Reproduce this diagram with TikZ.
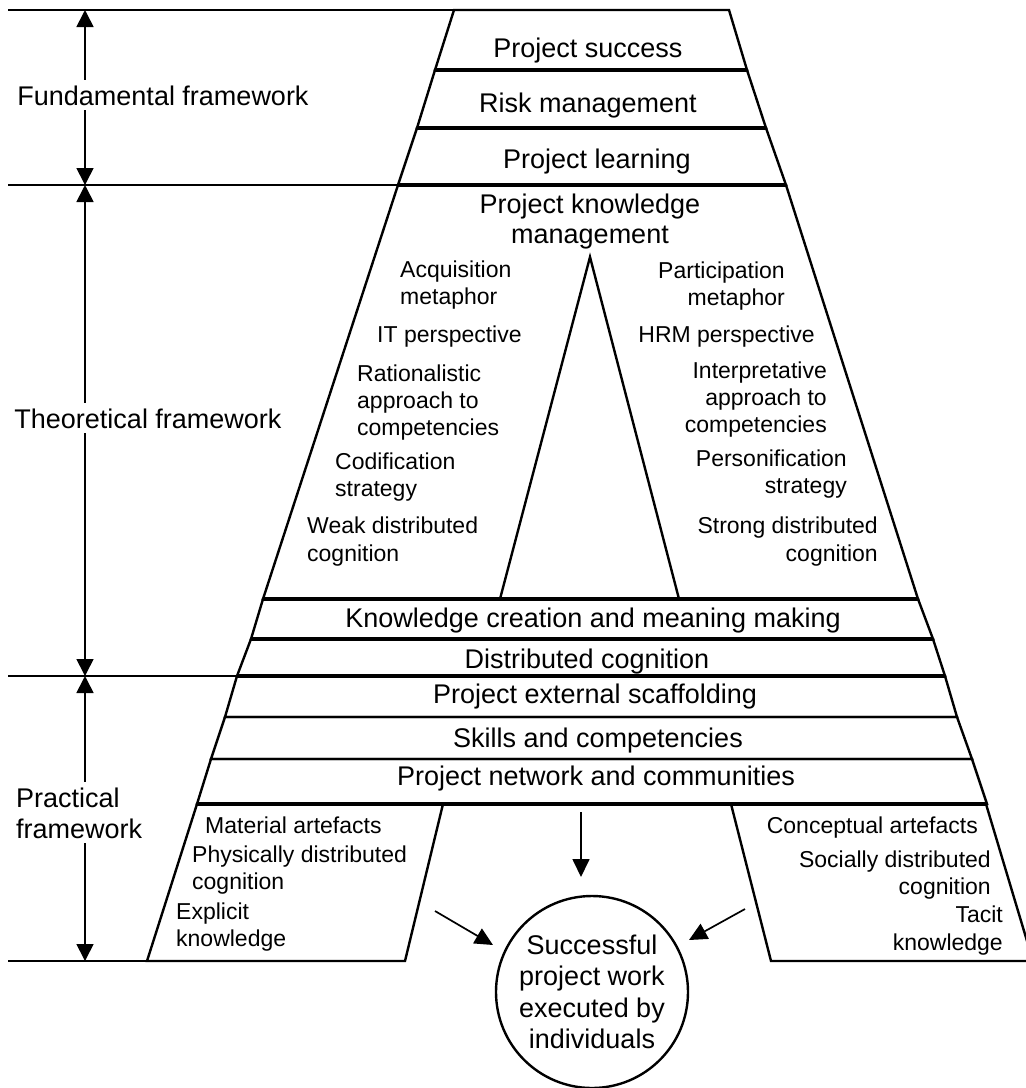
\documentclass[tikz,border=0pt]{standalone}
\usepackage{fontspec}
\setmainfont{Liberation Sans}
\usetikzlibrary{arrows.meta}
\begin{document}
\begin{tikzpicture}[x=1pt,y=-1pt,
  band/.style={draw, line width=2.4pt, line join=miter},
  sepline/.style={line width=3.6pt},
  guide/.style={line width=1.5pt},
  dimarrow/.style={line width=1.7pt,
    {Triangle[width=17pt,length=17pt]}-{Triangle[width=17pt,length=17pt]}},
  flow/.style={line width=1.7pt, -{Triangle[width=17pt,length=18pt]}},
  big/.style={font=\fontsize{27}{31.5}\selectfont, inner sep=0pt, anchor=base, align=center},
  small/.style={font=\fontsize{23}{27}\selectfont, inner sep=0pt},
  lsmall/.style={small, anchor=base west, align=left},
  rsmall/.style={small, anchor=base east, align=right},
  frame/.style={font=\fontsize{27}{31}\selectfont, fill=white, inner xsep=0pt, inner ysep=5pt}
]
% canvas
\fill[white] (0,0) rectangle (1026,1088);
\useasboundingbox (0,0) rectangle (1026,1088);
\clip (0,0) rectangle (1026,1088);

% corners of the stacked bands
\coordinate (p0l) at (454,10);  \coordinate (p0r) at (729,10);
\coordinate (p1l) at (435,70);  \coordinate (p1r) at (747,70);
\coordinate (p2l) at (417,128); \coordinate (p2r) at (766,128);
\coordinate (p3l) at (398,185); \coordinate (p3r) at (786,185);
\coordinate (p4l) at (263,599); \coordinate (p4r) at (918,599);
\coordinate (p5l) at (251,639); \coordinate (p5r) at (933,639);
\coordinate (p6l) at (237,676); \coordinate (p6r) at (945,676);
\coordinate (p7l) at (225,717); \coordinate (p7r) at (957,717);
\coordinate (p8l) at (211,759); \coordinate (p8r) at (972,759);
\coordinate (p9l) at (197,804); \coordinate (p9r) at (987,804);

% inner triangle of the knowledge management block
\coordinate (tapex) at (590,257);
\coordinate (tl) at (500,599);
\coordinate (tr) at (679,599);

% the two legs
\coordinate (lla) at (443,804); \coordinate (llb) at (405,961); \coordinate (llc) at (147,961);
\coordinate (rla) at (731,804); \coordinate (rlb) at (986,804);
\coordinate (rlc) at (1033,961); \coordinate (rld) at (771,961);

% left scale
\coordinate (g0) at (8,10);  \coordinate (g1) at (8,185);
\coordinate (g2) at (8,676); \coordinate (g3) at (8,961);
\coordinate (f0) at (85,10);  \coordinate (f1) at (85,185);
\coordinate (f2) at (85,676); \coordinate (f3) at (85,961);

% arrow ends
\coordinate (dnA) at (581,812); \coordinate (dnB) at (581,877);
\coordinate (lfA) at (435,911); \coordinate (lfB) at (493,945);
\coordinate (rtA) at (745,909); \coordinate (rtB) at (689,940);

% guide lines
\draw[guide] (g0) -- (p0l);
\draw[guide] (g1) -- (p3l);
\draw[guide] (g2) -- (p6l);
\draw[guide] (g3) -- (llc);

% bands
\draw[band] (p0l) -- (p0r) -- (p1r) -- (p1l) -- cycle;
\draw[band] (p1l) -- (p1r) -- (p2r) -- (p2l) -- cycle;
\draw[band] (p2l) -- (p2r) -- (p3r) -- (p3l) -- cycle;
\draw[band] (p3l) -- (p3r) -- (p4r) -- (p4l) -- cycle;
\draw[band] (p4l) -- (p4r) -- (p5r) -- (p5l) -- cycle;
\draw[band] (p5l) -- (p5r) -- (p6r) -- (p6l) -- cycle;
\draw[band] (p6l) -- (p6r) -- (p7r) -- (p7l) -- cycle;
\draw[band] (p7l) -- (p7r) -- (p8r) -- (p8l) -- cycle;
\draw[band] (p8l) -- (p8r) -- (p9r) -- (p9l) -- cycle;
\draw[band] (tl) -- (tapex) -- (tr);

% heavier separators
\foreach \k in {1,2,3,4,5,6,9}
  \draw[sepline] (p\k l) -- (p\k r);

% legs
\draw[band] (p9l) -- (lla) -- (llb) -- (llc) -- cycle;
\draw[band] (rla) -- (rlb) -- (rlc) -- (rld) -- cycle;

% scale arrows
\draw[dimarrow] (f0) -- (f1);
\draw[dimarrow] (f1) -- (f2);
\draw[dimarrow] (f2) -- (f3);

% multi-line nodes are placed by the baseline of their last line
\node[frame, anchor=base] (fund) at (163,105) {Fundamental framework};
\node[frame, anchor=base] (theo) at (148,428) {Theoretical framework};
\node[frame, anchor=base west, align=left] (prac) at (16,838) {Practical\\framework};

% band labels
\node[big] (success) at (588,57) {Project success};
\node[big] (risk) at (588,112) {Risk management};
\node[big] (learn) at (597,168) {Project learning};
\node[big, font=\fontsize{27}{30}\selectfont] (pkm) at (590,243) {Project knowledge\\management};
\node[big] (kcm) at (593,627) {Knowledge creation and meaning making};
\node[big] (dcog) at (587,668) {Distributed cognition};
\node[big] (scaf) at (595,703) {Project external scaffolding};
\node[big] (skill) at (598,747) {Skills and competencies};
\node[big] (netw) at (596,785) {Project network and communities};

% left column
\node[lsmall] (acq) at (400,304) {Acquisition\\metaphor};
\node[lsmall] (itp) at (377,342) {IT perspective};
\node[lsmall] (rat) at (357,435) {Rationalistic\\approach to\\competencies};
\node[lsmall] (cod) at (335,496) {Codification\\strategy};
\node[lsmall, font=\fontsize{23}{28}\selectfont] (weak) at (307,561) {Weak distributed\\cognition};

% right column
\node[rsmall] (par) at (785,305) {Participation\\metaphor};
\node[rsmall] (hrm) at (815,342) {HRM perspective};
\node[rsmall] (intp) at (827,432) {Interpretative\\approach to\\competencies};
\node[rsmall] (pers) at (847,493) {Personification\\strategy};
\node[rsmall, font=\fontsize{23}{28}\selectfont] (strong) at (878,561) {Strong distributed\\cognition};

% leg labels
\node[lsmall] (mat) at (205,833) {Material artefacts};
\node[lsmall] (phys) at (192,889) {Physically distributed\\cognition};
\node[lsmall] (expl) at (176,946) {Explicit\\knowledge};
\node[rsmall] (conc) at (978,833) {Conceptual artefacts};
\node[rsmall] (soc) at (991,894) {Socially distributed\\cognition};
\node[rsmall, font=\fontsize{23}{28}\selectfont] (tacit) at (1003,950) {Tacit\\knowledge};

% outcome
\node[draw, circle, line width=2.4pt, minimum size=192pt, inner sep=0pt, align=center,
      font=\fontsize{27}{31.5}\selectfont] (goal) at (592,992)
      {Successful\\project work\\executed by\\individuals};

\draw[flow] (dnA) -- (dnB);
\draw[flow] (lfA) -- (lfB);
\draw[flow] (rtA) -- (rtB);
\end{tikzpicture}
\end{document}
